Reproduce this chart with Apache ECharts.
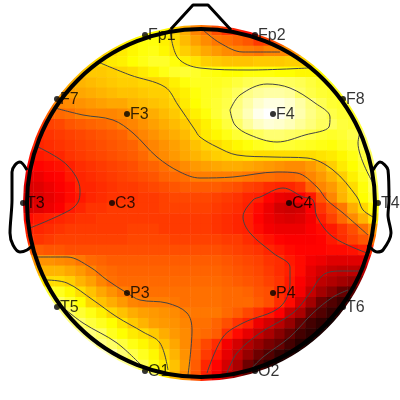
<!DOCTYPE html>
<html><head><meta charset="utf-8">
<style>html,body{margin:0;padding:0;background:#fff}#c{width:400px;height:400px}</style>
<script src="https://cdn.jsdelivr.net/npm/echarts@6/dist/echarts.min.js"></script>
</head><body><div id="c"></div>
<script>
// Scalp map values (hot scale 0-100), one row per line, top to bottom.
const rowStarts = [11,9,7,6,5,4,3,2,2,1,1,0,0,0,0,0,0,0,0,0,0,0,0,1,1,2,2,3,4,5,6,7,9,11];
const rowValues = [
[76,75,74,69,63,57,54,49,45,42,39,40],
[73,74,76,76,73,70,65,61,58,55,54,52,50,46,47,50],
[68,70,72,74,76,77,74,71,68,65,62,60,58,57,56,55,57,57,58,60],
[69,70,72,73,75,77,79,79,76,73,71,68,67,66,66,66,67,67,67,68,68,69],
[66,67,67,68,69,70,72,74,77,79,80,79,77,76,75,75,76,76,76,75,75,74,74,74],
[63,64,65,66,67,68,68,69,69,70,73,76,78,78,78,79,81,83,84,85,85,84,83,81,79,78],
[60,61,62,63,64,65,66,66,67,68,68,71,73,76,78,79,81,84,88,90,91,91,90,85,82,80,79,79],
[55,57,58,59,60,61,62,62,64,65,66,67,69,72,75,78,80,82,87,91,95,97,97,95,91,87,83,80,79,79],
[52,53,54,56,57,57,57,58,60,62,63,65,67,70,73,76,80,83,88,93,98,100,99,96,92,88,85,82,80,79],
[46,47,48,50,51,52,53,54,56,57,59,61,63,65,67,70,73,77,81,85,90,94,96,95,93,90,87,84,84,81,80,81],
[44,45,46,47,48,49,50,51,52,55,57,59,61,63,65,69,72,74,77,80,82,84,86,86,85,84,82,80,79,80,82,85],
[41,43,44,45,46,47,48,49,50,51,52,55,57,59,61,63,66,69,70,72,74,76,78,79,80,80,79,78,77,76,78,80,84,88],
[40,41,42,43,45,46,47,48,49,50,51,53,56,58,60,62,64,66,68,69,70,71,70,70,70,70,70,70,71,72,74,77,81,85],
[37,38,39,40,42,44,45,46,47,48,49,51,52,54,56,58,60,61,62,63,63,62,61,60,59,58,58,60,63,68,72,75,79,84],
[34,35,37,38,41,43,44,45,46,47,48,49,50,52,53,54,56,56,56,56,56,55,54,54,53,53,54,57,60,64,68,73,78,84],
[32,33,35,37,39,43,43,44,45,46,46,47,48,49,50,51,51,51,51,50,49,47,46,44,43,43,45,52,57,60,65,70,76,83],
[31,32,34,36,39,41,43,44,45,45,45,46,46,47,48,48,48,48,47,46,45,43,42,38,35,34,37,41,50,57,64,69,75,81],
[32,33,35,37,41,43,45,45,46,46,46,46,46,47,47,47,47,47,46,45,44,42,39,35,31,30,31,37,45,50,55,63,69,76],
[39,41,42,43,44,45,45,46,46,46,46,46,46,46,46,46,46,46,45,44,43,42,38,35,33,32,33,36,42,47,53,58,64,71],
[42,43,44,45,46,46,46,46,46,46,47,47,47,46,46,46,46,46,45,44,43,42,39,36,35,35,35,37,39,41,45,49,54,60],
[44,45,46,47,47,47,47,47,47,47,48,48,48,48,47,47,47,47,47,46,46,44,42,40,38,37,37,37,38,41,44,47,50,54],
[52,51,50,50,49,49,49,49,49,49,49,49,49,49,49,49,49,49,49,48,47,46,45,43,41,39,38,38,38,39,39,40,42,44],
[60,59,59,58,57,55,53,52,51,51,51,51,51,51,51,51,51,51,51,50,49,48,47,45,44,41,39,36,35,33,33,33,33,34],
[64,64,64,62,60,57,54,53,52,52,52,52,52,52,52,52,52,52,51,50,49,48,46,44,42,39,34,31,29,28,28,27],
[72,70,70,68,64,61,57,54,53,53,53,53,53,53,53,53,53,53,52,51,50,49,47,45,41,37,33,28,26,24,22,20],
[80,78,74,70,66,62,59,56,55,54,54,54,54,54,54,54,54,53,53,52,50,49,44,41,36,29,24,20,15,13],
[85,84,80,75,69,66,63,60,57,56,56,56,55,54,54,54,54,53,53,53,51,49,44,39,31,24,16,12,9,6],
[88,84,80,77,73,69,66,63,61,60,59,58,56,55,55,55,53,51,48,45,41,37,29,25,16,12,8,5],
[88,85,81,78,75,71,67,64,61,60,59,57,54,54,52,49,45,42,35,31,27,22,15,10,7,3],
[90,87,84,78,75,72,70,67,63,60,58,54,53,51,44,39,34,29,25,20,15,10,7,4],
[92,88,85,81,77,74,71,66,62,58,52,48,44,36,31,26,22,18,15,10,6,3],
[95,92,86,82,78,74,69,64,59,52,46,41,34,28,22,16,12,8,5,2],
[90,88,83,77,72,66,60,51,43,38,31,25,16,11,7,3],
[90,84,72,65,58,50,42,36,28,22,14,8]
];
// Electrodes, in scalp units (centre 0,0; y up).
const electrodeNames = ['Fp1','Fp2','F7','F3','F4','F8','T3','C3','C4','T4','T5','P3','P4','T6','O1','O2'];
const electrodeX = [-56,54,-144,-74,72,142,-178,-89,88,177,-144,-74,72,142,-56,54];
const electrodeY = [168,168,104,89,89,104,0,0,0,0,-104,-90,-90,-104,-168,-168];
// Contour lines, in scalp units.
const contours = [
[[147,-87],[132,-94],[112,-110],[89,-134],[62,-154],[49,-167]],
[[159,-68],[139,-68],[122,-72],[109,-90],[92,-110],[59,-130],[36,-150],[26,-170]],
[[166,-50],[132,-34],[116,-14],[112,3],[102,6],[82,15],[59,6],[52,3],[42,-14],[49,-30],[72,-50],[89,-64],[89,-80],[79,-104],[42,-120],[22,-134],[6,-170]],
[[-163,56],[-134,38],[-121,13],[-122,3],[-131,-7],[-171,-25]],
[[-146,95],[-118,88],[-88,83],[-68,70],[-44,46],[-21,31],[-1,25],[32,26],[76,31],[96,30],[116,16],[126,3],[142,-10],[167,-32]],
[[-164,-54],[-134,-54],[-111,-64],[-94,-77],[-74,-90],[-61,-97],[-34,-100],[-14,-110],[-9,-127],[-13,-172]],
[[2,173],[19,160],[42,151],[79,151]],
[[-103,141],[-71,128],[-36,116],[-23,98],[-6,73],[-1,66],[16,56],[36,48],[72,46],[106,45],[132,33],[156,6],[162,-7],[174,-15]],
[[-31,173],[-23,145],[-1,135],[49,133],[107,135]],
[[-154,-77],[-134,-80],[-108,-97],[-84,-114],[-58,-129],[-41,-140],[-33,-167]],
[[29,93],[39,108],[66,119],[89,115],[114,100],[129,86],[128,76],[104,68],[76,61],[49,68],[34,78],[29,93]],
[[159,71],[157,60],[172,20]],
[[-141,-102],[-118,-120],[-84,-140],[-58,-164]]
];
const nose = [[-30,174],[-8,198],[7,198],[30,173]];
const leftEar = [[-174,33],[-181,41],[-186,38],[-189,31],[-189,3],[-191,-30],[-188,-42],[-181,-49],[-174,-47],[-168,-42]];
const rightEar = [[172,33],[179,41],[187,33],[188,3],[187,-12],[190,-30],[182,-47],[176,-49],[167,-42]];
const headRadius = 174, mapRadius = 178;

const nCells = rowValues.length;
const cellNames = Array.from({length:nCells},(_,i)=>String(i));
const cells = [];
rowValues.forEach((row,i)=>row.forEach((v,k)=>cells.push([rowStarts[i]+k,i,v])));

function ringSeries(radius,color,width,z){
  return {type:'custom',xAxisIndex:1,yAxisIndex:1,z,silent:true,data:[[0,0]],
    renderItem(p,api){
      const c=api.coord([0,0]);
      const r=api.size([radius,radius])[0];
      return {type:'circle',shape:{cx:c[0],cy:c[1],r},style:{fill:'none',stroke:color,lineWidth:width}};
    }};
}
function pathSeries(points,color,width,z,smooth){
  return {type:'line',xAxisIndex:1,yAxisIndex:1,data:points,z,smooth,clip:false,silent:true,
    symbol:'none',lineStyle:{color,width,join:'round'}};
}
const series = [
  {type:'heatmap',xAxisIndex:0,yAxisIndex:0,data:cells,z:1,silent:true,progressive:0,itemStyle:{borderWidth:0}},
  ringSeries(mapRadius+12,'#ffffff',24,2),
  ...contours.map(c=>pathSeries(c,'#444444',1,3,0.35)),
  pathSeries(nose,'#000000',3,4,false),
  pathSeries(leftEar,'#000000',3,4,0.3),
  pathSeries(rightEar,'#000000',3,4,0.3),
  ringSeries(headRadius,'#000000',4,4),
  {type:'scatter',xAxisIndex:1,yAxisIndex:1,z:5,clip:false,silent:true,symbolSize:6,
   itemStyle:{color:'#000000'},
   data:electrodeNames.map((n,i)=>({name:n,value:[electrodeX[i],electrodeY[i]]})),
   label:{show:true,position:'right',distance:0,offset:[0,1],formatter:'{b}',color:'#000000',
          fontFamily:'Liberation Sans',fontSize:16}}
];
const chart = echarts.init(document.getElementById('c'),null,{renderer:'canvas'});
chart.setOption({
  animation:false,
  backgroundColor:'#ffffff',
  grid:[{left:23,top:25,width:356,height:356},{left:0,top:0,width:400,height:400}],
  xAxis:[{type:'category',gridIndex:0,data:cellNames,show:false},{type:'value',gridIndex:1,min:-201,max:199,show:false}],
  yAxis:[{type:'category',gridIndex:0,data:cellNames,show:false,inverse:true},{type:'value',gridIndex:1,min:-197,max:203,show:false}],
  visualMap:{show:false,type:'continuous',min:0,max:100,seriesIndex:0,
    inRange:{color:['#000000','#550000','#aa0000','#ff0000','#ff5500','#ffaa00','#ffff00','#ffff80','#ffffff']}},
  series
});
</script></body></html>
